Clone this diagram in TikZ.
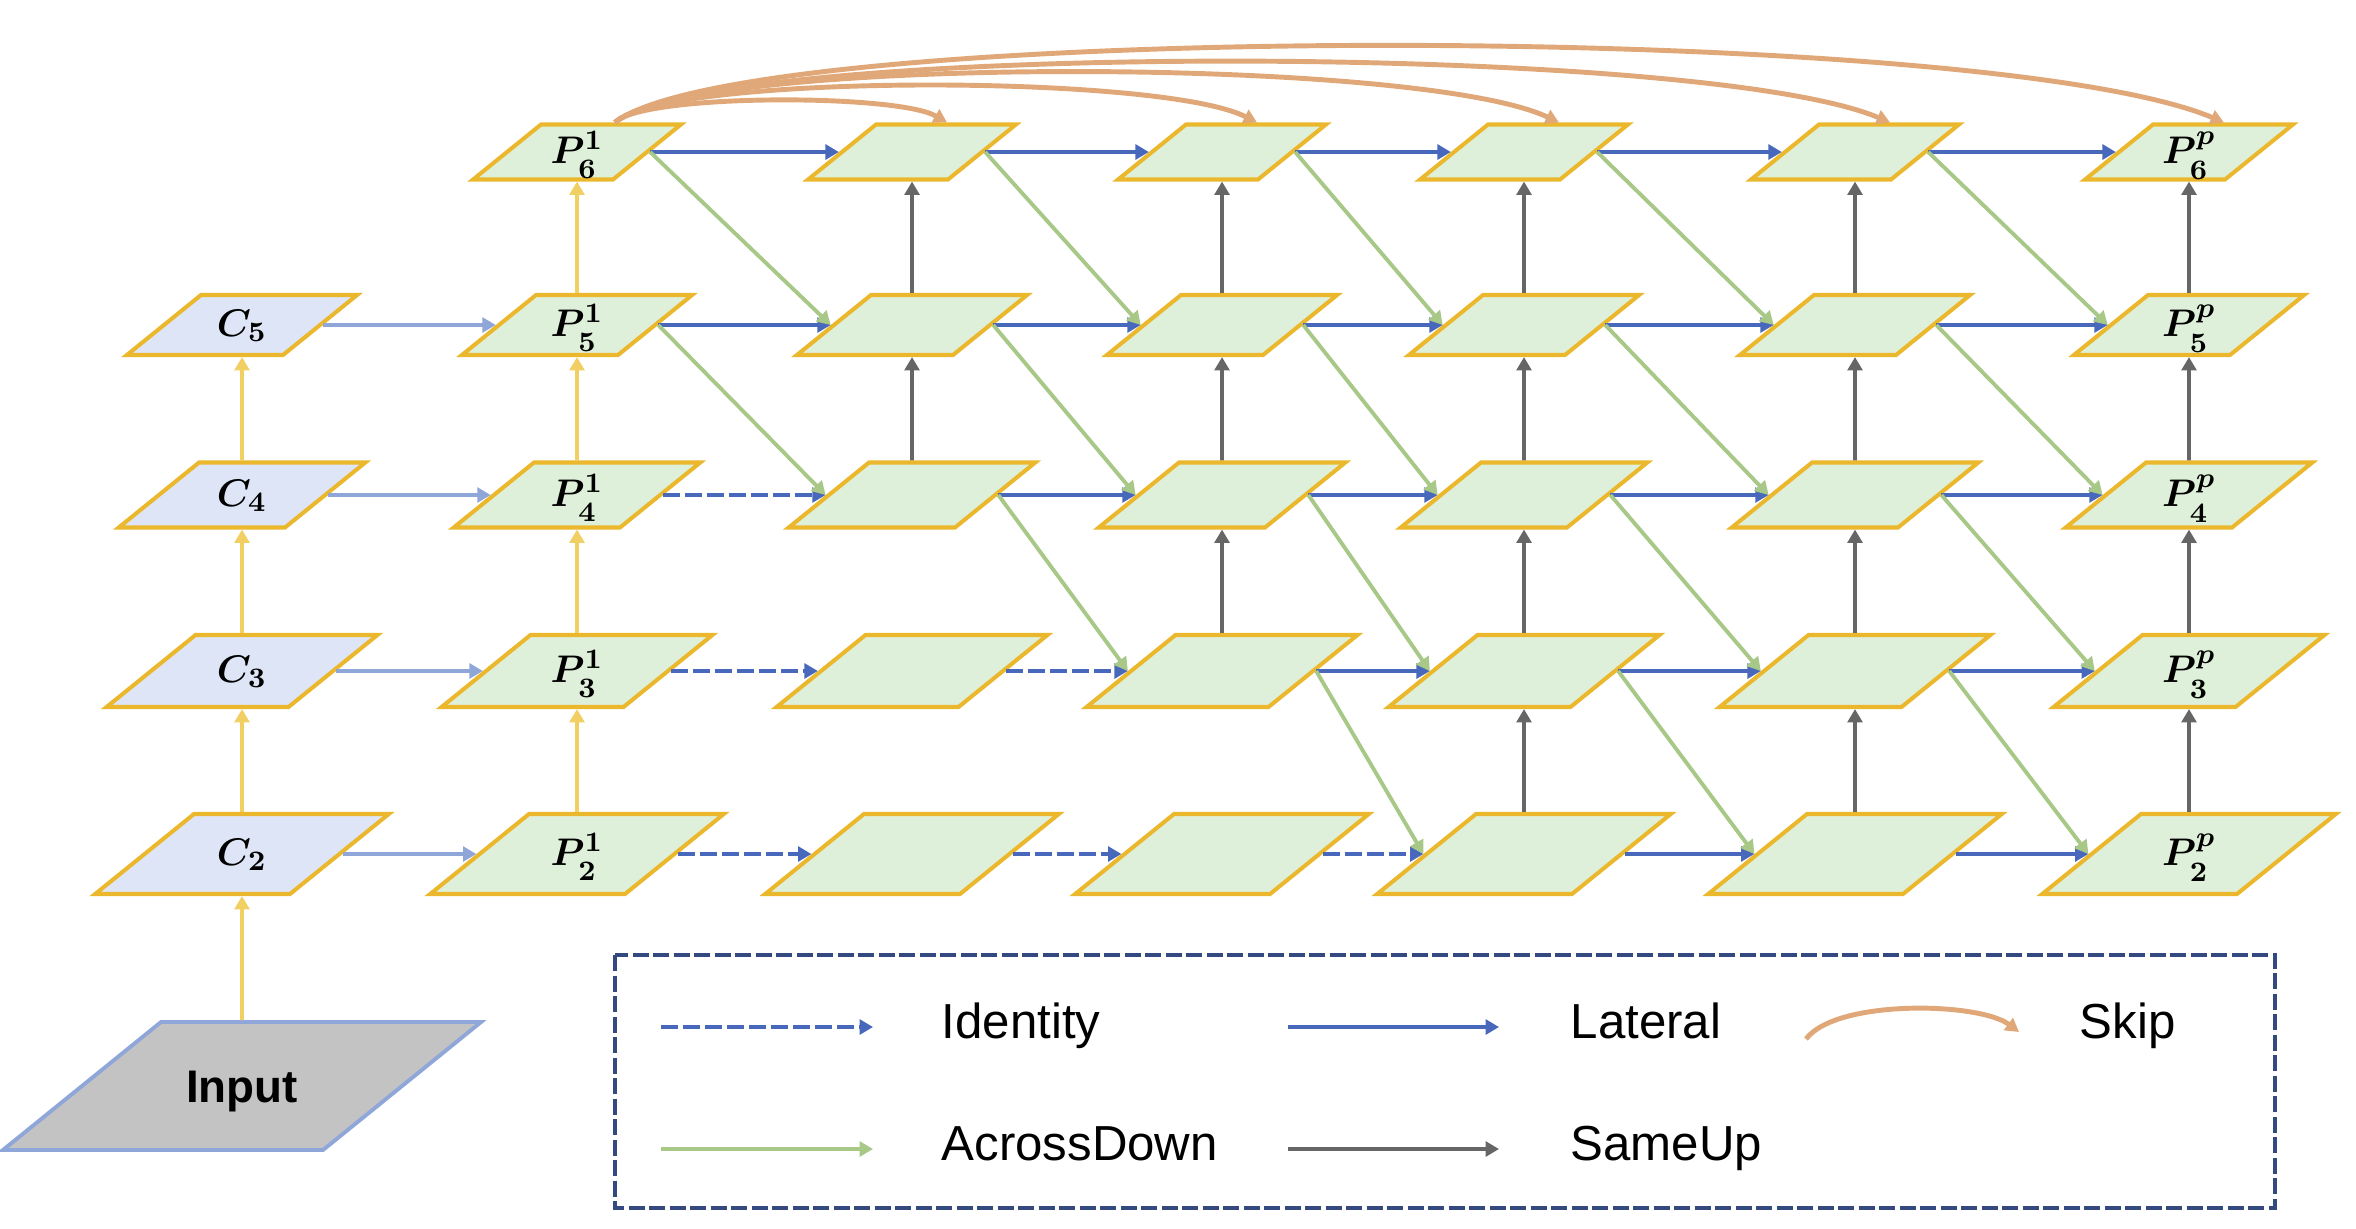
\documentclass[tikz,border=0pt]{standalone}
\usepackage{bm}
\usepackage{fontspec}
\newfontfamily\legendfont{Liberation Sans}
\usetikzlibrary{shapes.geometric,arrows.meta,calc}

\definecolor{gold}{RGB}{235,184,45}
\definecolor{lgreen}{RGB}{223,240,218}
\definecolor{lblue}{RGB}{222,229,247}
\definecolor{backyellow}{RGB}{242,207,98}
\definecolor{periwinkle}{RGB}{143,166,217}
\definecolor{latblue}{RGB}{72,104,188}
\definecolor{downgreen}{RGB}{168,200,136}
\definecolor{upgray}{RGB}{102,102,102}
\definecolor{skiptan}{RGB}{224,168,120}
\definecolor{framenavy}{RGB}{52,73,128}
\definecolor{ingray}{RGB}{195,195,195}

\begin{document}
\begin{tikzpicture}[x=0.1mm, y=-0.1mm,
    slanted/.style={trapezium, trapezium left angle=39, trapezium right angle=141,
        inner sep=0pt, align=center},
    layer/.style={slanted, draw=gold, line width=1.15pt, fill=lgreen,
        font=\fontsize{11}{12}\selectfont},
    lvl6/.style={text width=7.2mm, text height=3.85mm, text depth=1.65mm},
    lvl5/.style={text width=8.2mm, text height=4.1mm, text depth=1.9mm},
    lvl4/.style={text width=8.6mm, text height=4.35mm, text depth=2.15mm},
    lvl3/.style={text width=9.3mm, text height=4.7mm, text depth=2.5mm},
    lvl2/.style={text width=9.6mm, text height=5.1mm, text depth=2.9mm},
    tip/.style={-{Triangle[width=4.2pt,length=3.8pt]}},
    backbone/.style={tip, draw=backyellow, line width=1.1pt},
    inlat/.style={tip, draw=periwinkle, line width=1.1pt},
    latarrow/.style={tip, draw=latblue, line width=1.3pt},
    idarrow/.style={latarrow, dash pattern=on 1.7mm off 0.5mm},
    downarrow/.style={tip, draw=downgreen, line width=1.1pt},
    uparrow/.style={tip, draw=upgray, line width=1.1pt},
    skiparrow/.style={tip, draw=skiptan, line width=1.4pt},
    legendtext/.style={anchor=base west, inner sep=0pt,
        font=\legendfont\fontsize{14}{16}\selectfont}
]
\useasboundingbox (0,0) rectangle (2356,1228);

% input and backbone
\node[slanted, draw=periwinkle, fill=ingray, line width=1.1pt,
      text width=16.2mm, text height=8.0mm, text depth=4.8mm,
      font=\legendfont\bfseries\fontsize{13}{15}\selectfont] (input) at (242,1086) {Input};
\node[layer, lvl5, fill=lblue] (c5) at (242,325) {$\bm{C_5}$};
\node[layer, lvl4, fill=lblue] (c4) at (242,495) {$\bm{C_4}$};
\node[layer, lvl3, fill=lblue] (c3) at (242,671) {$\bm{C_3}$};
\node[layer, lvl2, fill=lblue] (c2) at (242,854) {$\bm{C_2}$};

% first and last pyramid
\foreach \r/\y in {6/152,5/325,4/495,3/671,2/854}{
  \node[layer, lvl\r] (p1\r) at (577,\y) {$\bm{P^{1}_{\rule{0pt}{1.45ex}\r}}$};
  \node[layer, lvl\r] (p6\r) at (2189,\y) {$\bm{P^{p}_{\rule{0pt}{1.45ex}\r}}$};
}
% pyramids in between
\foreach \c/\x in {2/912,3/1222,4/1524,5/1855}
  \foreach \r/\y in {6/152,5/325,4/495,3/671,2/854}
    \node[layer, lvl\r] (p\c\r) at (\x,\y) {};

\draw[backbone] (input.north) -- (c2.south);
\foreach \a/\b in {c2/c3,c3/c4,c4/c5,p12/p13,p13/p14,p14/p15,p15/p16}
  \draw[backbone] (\a.north) -- (\b.south);
\foreach \r in {2,...,5}
  \draw[inlat] (c\r.right side) -- (p1\r.left side);

% identity
\foreach \a/\b in {p12/p22,p22/p32,p32/p42,p13/p23,p23/p33,p14/p24}
  \draw[idarrow] (\a.right side) -- (\b.left side);
% lateral
\foreach \a/\b in {p15/p25,p16/p26,p24/p34,p25/p35,p26/p36,
                   p33/p43,p34/p44,p35/p45,p36/p46,
                   p42/p52,p43/p53,p44/p54,p45/p55,p46/p56,
                   p52/p62,p53/p63,p54/p64,p55/p65,p56/p66}
  \draw[latarrow] (\a.right side) -- (\b.left side);
% across down
\foreach \a/\b in {p16/p25,p15/p24,p26/p35,p25/p34,p24/p33,
                   p36/p45,p35/p44,p34/p43,p33/p42,
                   p46/p55,p45/p54,p44/p53,p43/p52,
                   p56/p65,p55/p64,p54/p63,p53/p62}
  \draw[downarrow] (\a.right side) -- (\b.left side);
% same up
\foreach \a/\b in {p24/p25,p25/p26,p33/p34,p34/p35,p35/p36,
                   p42/p43,p43/p44,p44/p45,p45/p46,
                   p52/p53,p53/p54,p54/p55,p55/p56,
                   p62/p63,p63/p64,p64/p65,p65/p66}
  \draw[uparrow] (\a.north) -- (\b.south);

% skip
\coordinate (sk0) at ($(p16.north)+(38,0)$);
\foreach \c/\dx/\dy/\ex in {2/27/29/50,3/52/49/97,4/76/67/142,5/102/81/192,6/129/102/242}
  \draw[skiparrow] (sk0) .. controls +(\dx,-\dy) and +(-\ex,-\dy) .. ($(p\c6.north)+(35,0)$);

% legend
\draw[framenavy, line width=1.4pt, dash pattern=on 1.6mm off 0.45mm] (615,955) rectangle (2275,1208);
\coordinate (id0) at (661,1027);  \coordinate (id1) at (873,1027);
\coordinate (la0) at (1288,1027); \coordinate (la1) at (1499,1027);
\coordinate (sk1) at (1806,1039); \coordinate (sk2) at (2019,1032);
\coordinate (ad0) at (661,1149);  \coordinate (ad1) at (873,1149);
\coordinate (su0) at (1288,1149); \coordinate (su1) at (1499,1149);
\draw[idarrow] (id0) -- (id1);
\draw[latarrow] (la0) -- (la1);
\draw[skiparrow] (sk1) .. controls +(30,-40) and +(-40,-30) .. (sk2);
\draw[downarrow] (ad0) -- (ad1);
\draw[uparrow] (su0) -- (su1);
\node[legendtext] (lid) at (941,1038) {Identity};
\node[legendtext] (lla) at (1570,1038) {Lateral};
\node[legendtext] (lsk) at (2079,1038) {Skip};
\node[legendtext] (lad) at (941,1160) {AcrossDown};
\node[legendtext] (lsu) at (1570,1160) {SameUp};

\end{tikzpicture}
\end{document}
